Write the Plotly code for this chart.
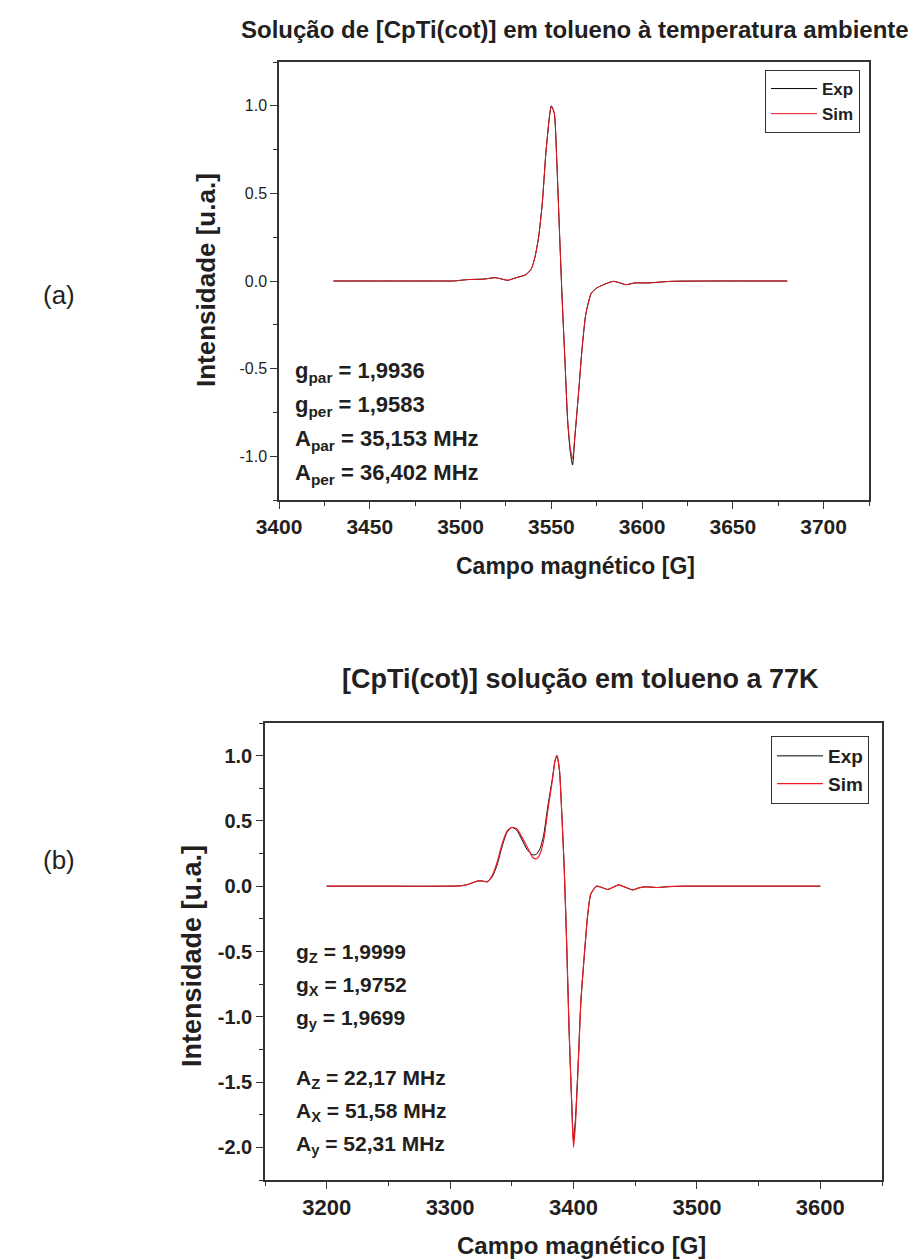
import plotly.graph_objects as go

W, H = 922, 1260

# ---------------- (a) room temperature ----------------
top_field = [3430, 3450, 3470, 3490, 3496, 3504, 3513, 3519, 3522, 3526,
             3530, 3536, 3539, 3541, 3543, 3545, 3547, 3549, 3550, 3551.6,
             3553, 3554.4, 3556, 3557.5, 3559, 3560.4, 3561.7, 3563, 3565, 3567,
             3569, 3572, 3575, 3579, 3584, 3587, 3591, 3596, 3603, 3616,
             3640, 3660, 3680]
top_exp = [0, 0, 0, 0, 0, 0.008, 0.011, 0.019, 0.013, 0.004,
           0.017, 0.036, 0.07, 0.137, 0.25, 0.44, 0.73, 0.94, 1.0, 0.96,
           0.69, 0.31, -0.11, -0.45, -0.80, -0.97, -1.05, -0.89, -0.64, -0.38,
           -0.19, -0.07, -0.04, -0.02, -0.002, -0.008, -0.021, -0.011, -0.011, -0.002,
           0, 0, 0]
top_sim = [0, 0, 0, 0, 0, 0.008, 0.011, 0.019, 0.013, 0.004,
           0.017, 0.036, 0.07, 0.137, 0.25, 0.44, 0.73, 0.94, 0.995, 0.96,
           0.69, 0.31, -0.11, -0.45, -0.79, -0.95, -1.015, -0.88, -0.64, -0.38,
           -0.19, -0.07, -0.04, -0.02, -0.002, -0.008, -0.021, -0.011, -0.011, -0.002,
           0, 0, 0]

# ---------------- (b) 77 K ----------------
bot_field = [3200, 3250, 3298, 3308, 3314, 3319, 3323, 3326, 3330, 3334,
             3338, 3342, 3346, 3350, 3354, 3358, 3362.5, 3367, 3370, 3373,
             3376, 3379, 3383, 3385, 3386.6, 3388.6, 3390.5, 3392.5, 3394.5, 3396.4,
             3398.4, 3400, 3401.6, 3404, 3406, 3409, 3411.5, 3414, 3418.6, 3422.5,
             3427.7, 3432, 3436.5, 3442, 3448, 3453, 3458, 3467.5, 3477, 3490,
             3520, 3560, 3600]
bot_exp = [0, 0, 0, 0.003, 0.012, 0.028, 0.04, 0.04, 0.033, 0.07,
           0.16, 0.30, 0.41, 0.45, 0.43, 0.36, 0.28, 0.24, 0.245, 0.29,
           0.40, 0.60, 0.83, 0.96, 1.0, 0.89, 0.56, 0.13, -0.45, -1.09,
           -1.62, -1.94, -1.78, -1.31, -0.88, -0.50, -0.22, -0.06, 0.0, -0.008,
           -0.025, -0.008, 0.01, -0.008, -0.028, -0.013, -0.005, -0.01, -0.003, 0,
           0, 0, 0]
bot_sim = [0, 0, 0, 0.003, 0.012, 0.03, 0.043, 0.04, 0.035, 0.08,
           0.18, 0.32, 0.42, 0.45, 0.44, 0.38, 0.30, 0.22, 0.21, 0.25,
           0.36, 0.57, 0.82, 0.96, 1.0, 0.89, 0.56, 0.13, -0.45, -1.09,
           -1.63, -2.0, -1.82, -1.33, -0.88, -0.50, -0.22, -0.06, 0.0, -0.008,
           -0.025, -0.008, 0.01, -0.008, -0.028, -0.013, -0.005, -0.01, -0.003, 0,
           0, 0, 0]

top_yticks = [-1.0, -0.5, 0.0, 0.5, 1.0]
top_yticktext = ["-1.0", "-0.5", "0.0", "0.5", "1.0"]
bot_yticks = [-2.0, -1.5, -1.0, -0.5, 0.0, 0.5, 1.0]
bot_yticktext = ["-2.0", "-1.5", "-1.0", "-0.5", "0.0", "0.5", "1.0"]

FONT = "Liberation Sans, Arial, sans-serif"
INK = "#231f20"
AX = "#333333"


def px(x):
    return x / W


def py(y):
    return 1 - y / H


fig = go.Figure()
fig.add_trace(go.Scatter(x=top_field, y=top_exp, name="Exp", mode="lines",
                         line=dict(color="black", width=1, shape="spline", smoothing=0.6),
                         xaxis="x", yaxis="y", legend="legend"))
fig.add_trace(go.Scatter(x=top_field, y=top_sim, name="Sim", mode="lines",
                         line=dict(color="#e8141c", width=1, shape="spline", smoothing=0.6),
                         xaxis="x", yaxis="y", legend="legend"))
fig.add_trace(go.Scatter(x=bot_field, y=bot_exp, name="Exp", mode="lines",
                         line=dict(color="black", width=1, shape="spline", smoothing=0.6),
                         xaxis="x2", yaxis="y2", legend="legend2"))
fig.add_trace(go.Scatter(x=bot_field, y=bot_sim, name="Sim", mode="lines",
                         line=dict(color="#ee1c24", width=1.2, shape="spline", smoothing=0.6),
                         xaxis="x2", yaxis="y2", legend="legend2"))

axcommon = dict(showgrid=False, zeroline=False, showline=True, linecolor=AX,
                linewidth=1.5, mirror=True, ticks="outside", ticklen=7,
                tickcolor=AX, tickwidth=1.2, automargin=False)

fig.update_layout(
    width=W, height=H, autosize=False,
    margin=dict(l=0, r=0, t=0, b=0, autoexpand=False),
    paper_bgcolor="white", plot_bgcolor="white",
    font=dict(family=FONT, color=INK),
    xaxis=dict(domain=[px(279), px(869)], anchor="y", range=[3400, 3725],
               tick0=3400, dtick=50,
               tickfont=dict(size=21, family=FONT, weight="bold", color=INK),
               minor=dict(dtick=25, ticks="outside", ticklen=4, tickcolor=AX),
               **axcommon),
    yaxis=dict(domain=[py(500), py(62)], anchor="x", range=[-1.25, 1.25],
               tickvals=top_yticks, ticktext=top_yticktext,
               tickfont=dict(size=16, family=FONT, color=INK),
               minor=dict(dtick=0.25, ticks="outside", ticklen=4, tickcolor=AX),
               **axcommon),
    xaxis2=dict(domain=[px(265), px(882)], anchor="y2", range=[3150, 3650],
                tick0=3200, dtick=100,
                tickfont=dict(size=22, family=FONT, weight="bold", color=INK),
                minor=dict(dtick=50, ticks="outside", ticklen=4, tickcolor=AX),
                **axcommon),
    yaxis2=dict(domain=[py(1180), py(723)], anchor="x2", range=[-2.25, 1.25],
                tickvals=bot_yticks, ticktext=bot_yticktext,
                tickfont=dict(size=20, family=FONT, weight="bold", color=INK),
                minor=dict(dtick=0.25, ticks="outside", ticklen=4, tickcolor=AX),
                **axcommon),
    legend=dict(x=px(860), y=py(70), xanchor="right", yanchor="top",
                bordercolor=AX, borderwidth=1, bgcolor="white",
                font=dict(size=17, family=FONT, weight="bold", color=INK),
                tracegroupgap=0, itemwidth=46),
    legend2=dict(x=px(869), y=py(736), xanchor="right", yanchor="top",
                 bordercolor=AX, borderwidth=1, bgcolor="white",
                 font=dict(size=19, family=FONT, weight="bold", color=INK),
                 tracegroupgap=0, itemwidth=46),
    showlegend=True,
)

annots = []


def txt(x, y, s, size, bold=True, xanchor="center", angle=0):
    annots.append(dict(x=px(x), y=py(y), xref="paper", yref="paper", text=s,
                       showarrow=False, xanchor=xanchor, yanchor="middle",
                       textangle=angle,
                       font=dict(size=size, family=FONT, color=INK,
                                 weight="bold" if bold else "normal")))


# titles
txt(575, 29, "Solução de [CpTi(cot)] em tolueno à temperatura ambiente", 24)
txt(580, 679, "[CpTi(cot)] solução em tolueno a 77K", 27)
# axis titles
txt(575, 566, "Campo magnético [G]", 23)
txt(206, 280, "Intensidade [u.a.]", 26, angle=-90)
txt(581, 1245, "Campo magnético [G]", 24)
txt(192, 956, "Intensidade [u.a.]", 27, angle=-90)
# panel labels
txt(59, 295, "(a)", 26, bold=False)
txt(59, 860, "(b)", 26, bold=False)
# parameters (a)
for y, s in [(372, "g<sub>par</sub> = 1,9936"), (406, "g<sub>per</sub> = 1,9583"),
             (440, "A<sub>par</sub> = 35,153 MHz"), (474, "A<sub>per</sub> = 36,402 MHz")]:
    txt(293, y, s, 22, xanchor="left")
# parameters (b)
for y, s in [(953, "g<sub>Z</sub> = 1,9999"), (986, "g<sub>X</sub> = 1,9752"),
             (1019, "g<sub>y</sub> = 1,9699"), (1079, "A<sub>Z</sub> = 22,17 MHz"),
             (1112, "A<sub>X</sub> = 51,58 MHz"), (1145, "A<sub>y</sub> = 52,31 MHz")]:
    txt(294, y, s, 21, xanchor="left")

fig.update_layout(annotations=annots)

fig.write_html("out.html", config={"displayModeBar": False},
               post_script="document.body.style.margin='0';")
